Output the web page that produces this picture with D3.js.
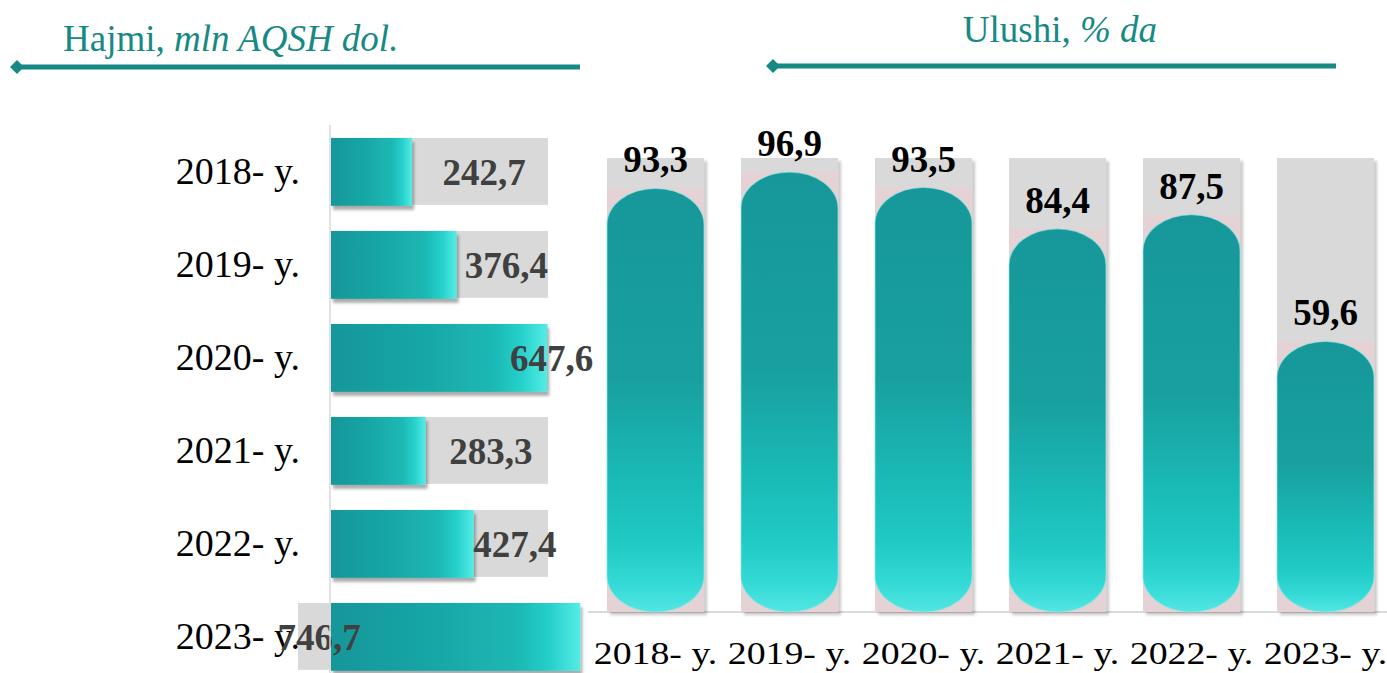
<!DOCTYPE html>
<html>
<head>
<meta charset="utf-8">
<script src="https://cdn.jsdelivr.net/npm/d3@7/dist/d3.min.js"></script>
<style>
  html, body { margin: 0; padding: 0; background: #ffffff; }
  svg { display: block; }
  text { font-family: "Liberation Serif", "Times New Roman", serif; }
</style>
</head>
<body>
<svg id="chart" width="1387" height="673"></svg>
<script>
// Years shown on both panels
const years = ["2018- y.", "2019- y.", "2020- y.", "2021- y.", "2022- y.", "2023- y."];
// Volume, million USD
const volume = [242.7, 376.4, 647.6, 283.3, 427.4, 746.7];
// Share, percent
const share = [93.3, 96.9, 93.5, 84.4, 87.5, 59.6];
// Panel headings
const leftTitle = ["Hajmi,", " mln AQSH dol."];
const rightTitle = ["Ulushi,", " % da"];
// Background track lengths
const volumeTrack = 650;
const shareTrack = 100;

const fmt = v => d3.format(".1f")(v).replace(".", ",");

const svg = d3.select("#chart");
const defs = svg.append("defs");

// Horizontal bar gradient
const hg = defs.append("linearGradient").attr("id", "hbar").attr("x1", 0).attr("x2", 1).attr("y1", 0).attr("y2", 0);
[[0, "#16969a"], [0.45, "#19a8a7"], [0.75, "#1bb8b4"], [0.88, "#26d0cb"], [1, "#55ece6"]]
  .forEach(([o, c]) => hg.append("stop").attr("offset", o).attr("stop-color", c));

// Column gradient
const vg = defs.append("linearGradient").attr("id", "vbar").attr("x1", 0).attr("x2", 0).attr("y1", 0).attr("y2", 1);
[[0, "#17979a"], [0.45, "#18a09f"], [0.68, "#1ab9b5"], [0.84, "#20cac5"], [0.93, "#33d9d5"], [1, "#52e6e3"]]
  .forEach(([o, c]) => vg.append("stop").attr("offset", o).attr("stop-color", c));

const shadow = defs.append("filter").attr("id", "shadow").attr("x", "-10%").attr("y", "-10%").attr("width", "130%").attr("height", "130%");
shadow.append("feDropShadow").attr("dx", 2).attr("dy", 4).attr("stdDeviation", 1.6)
  .attr("flood-color", "#000").attr("flood-opacity", 0.33);

const shadowCol = defs.append("filter").attr("id", "shadowCol").attr("x", "-10%").attr("y", "-5%").attr("width", "130%").attr("height", "115%");
shadowCol.append("feDropShadow").attr("dx", 3).attr("dy", 3).attr("stdDeviation", 1.5)
  .attr("flood-color", "#000").attr("flood-opacity", 0.22);

const teal = "#168984";

// ---------- headings ----------
function heading(x, y, parts, anchor) {
  const t = svg.append("text").attr("x", x).attr("y", y).attr("font-size", 37)
    .attr("fill", teal).attr("text-anchor", anchor);
  t.append("tspan").text(parts[0]);
  t.append("tspan").attr("font-style", "italic").text(parts[1]);
}
heading(63, 51, leftTitle, "start");
heading(1060, 42, rightTitle, "middle");

function rule(x0, x1, y) {
  svg.append("line").attr("x1", x0).attr("x2", x1).attr("y1", y).attr("y2", y)
    .attr("stroke", teal).attr("stroke-width", 5);
  svg.append("path")
    .attr("d", `M${x0 - 7},${y} L${x0},${y - 7} L${x0 + 7},${y} L${x0},${y + 7} Z`)
    .attr("fill", teal);
}
rule(17, 580, 67);
rule(773, 1336, 66);

// ---------- left panel: horizontal bars ----------
const y = d3.scaleBand().domain(years).range([125.4, 683.4]).paddingInner(0.27).paddingOuter(0.135);
const x = d3.scaleLinear().domain([0, volumeTrack]).range([331, 548]);
const x0 = x(0);
const trackW = x(volumeTrack) - x0;

const left = svg.append("g");

const rows = left.selectAll("g.row").data(years.map((yr, i) => ({ yr, v: volume[i] })))
  .join("g").attr("class", "row");

// grey tracks; a bar longer than its track gets its value box left of the axis
rows.append("rect")
  .attr("x", d => d.v > volumeTrack ? x0 - 33 : x0)
  .attr("y", d => y(d.yr))
  .attr("width", trackW)
  .attr("height", y.bandwidth() - 1)
  .attr("fill", "#d9d9d9");

rows.append("rect")
  .attr("x", x0)
  .attr("y", d => y(d.yr))
  .attr("width", d => x(d.v) - x0)
  .attr("height", y.bandwidth())
  .attr("fill", "url(#hbar)")
  .attr("filter", "url(#shadow)");

// axis line
left.append("line").attr("x1", 330).attr("x2", 330).attr("y1", 125).attr("y2", 673)
  .attr("stroke", "#d9d9d9").attr("stroke-width", 1.5);

rows.append("text")
  .attr("x", 300)
  .attr("y", d => y(d.yr) + y.bandwidth() / 2 + 12)
  .attr("text-anchor", "end")
  .attr("font-size", 38)
  .attr("fill", "#000")
  .text(d => d.yr);

rows.append("text")
  .attr("x", d => d.v > volumeTrack ? x0 - 12 : (x(d.v) + x(volumeTrack)) / 2 + 4)
  .attr("y", d => y(d.yr) + y.bandwidth() / 2 + 13.5)
  .attr("text-anchor", "middle")
  .attr("font-size", 37)
  .attr("font-weight", "bold")
  .attr("fill", "#404040")
  .text(d => fmt(d.v));

// ---------- right panel: rounded columns ----------
const cx = d3.scaleBand().domain(years).range([588.5, 1392.5]).paddingInner(0.276).paddingOuter(0.138);
const cy = d3.scaleLinear().domain([0, shareTrack]).range([612, 158]);
const w = cx.bandwidth();
const ry = 36;

const right = svg.append("g");

right.append("line").attr("x1", 588).attr("x2", 1387).attr("y1", 612).attr("y2", 612)
  .attr("stroke", "#d9d9d9").attr("stroke-width", 2);

const cols = right.selectAll("g.col").data(years.map((yr, i) => ({ yr, v: share[i] })))
  .join("g").attr("class", "col");

cols.append("rect")
  .attr("x", d => cx(d.yr))
  .attr("y", cy(shareTrack))
  .attr("width", w)
  .attr("height", cy(0) - cy(shareTrack))
  .attr("fill", "#d9d9d9")
  .attr("filter", "url(#shadowCol)");

cols.append("rect")
  .attr("x", d => cx(d.yr))
  .attr("y", d => cy(d.v))
  .attr("width", w)
  .attr("height", d => cy(0) - cy(d.v))
  .attr("fill", "#e4d2d5");

cols.append("path")
  .attr("d", d => {
    const l = cx(d.yr), r = l + w, t = cy(d.v), b = cy(0), rx = w / 2;
    return `M${l},${t + ry} A${rx},${ry} 0 0 1 ${r},${t + ry} L${r},${b - ry} A${rx},${ry} 0 0 1 ${l},${b - ry} Z`;
  })
  .attr("fill", "url(#vbar)")
  .attr("stroke", "#8ee6e4")
  .attr("stroke-opacity", 0.6)
  .attr("stroke-width", 1.2);

cols.append("text")
  .attr("x", d => cx(d.yr) + w / 2)
  .attr("y", d => cy(d.v) - 16)
  .attr("text-anchor", "middle")
  .attr("font-size", 37)
  .attr("font-weight", "bold")
  .attr("fill", "#000")
  .text(d => fmt(d.v));

cols.append("text")
  .attr("transform", d => `translate(${cx(d.yr) + w / 2},664) scale(1.22,1)`)
  .attr("text-anchor", "middle")
  .attr("font-size", 31)
  .attr("fill", "#000")
  .text(d => d.yr);
</script>
</body>
</html>
